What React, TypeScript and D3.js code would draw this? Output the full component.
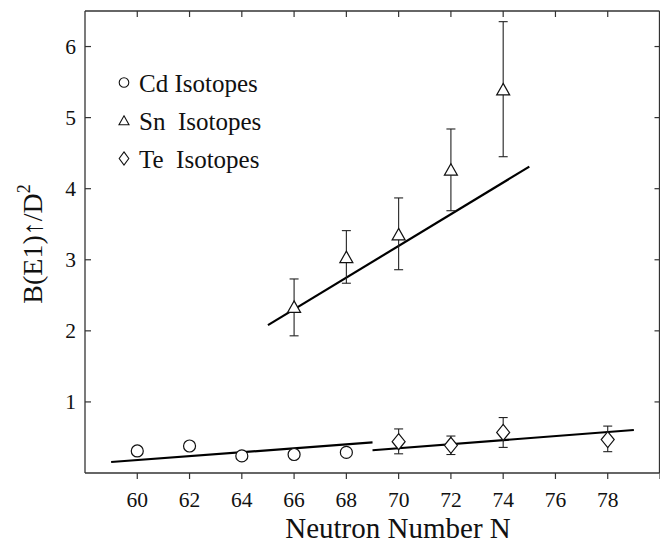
import * as d3 from "d3";

// neutron numbers and B(E1)↑/D² values
const cdN = [60, 62, 64, 66, 68];
const cdVal = [0.31, 0.38, 0.24, 0.26, 0.29];

const snN = [66, 68, 70, 72, 74];
const snVal = [2.33, 3.03, 3.35, 4.26, 5.39];
const snLo = [1.93, 2.67, 2.86, 3.69, 4.45];
const snHi = [2.73, 3.41, 3.87, 4.84, 6.35];

const teN = [70, 72, 74, 78];
const teVal = [0.44, 0.39, 0.57, 0.47];
const teLo = [0.27, 0.26, 0.36, 0.3];
const teHi = [0.62, 0.52, 0.78, 0.66];

// fitted straight lines (end points)
const cdFit = [
  [59, 0.155],
  [69, 0.43],
];
const snFit = [
  [65, 2.08],
  [75, 4.31],
];
const teFit = [
  [69, 0.32],
  [79, 0.605],
];

const xTicks = [60, 62, 64, 66, 68, 70, 72, 74, 76, 78, 80];
const yTicks = [1, 2, 3, 4, 5, 6];

const legendItems = ["Cd Isotopes", "Sn  Isotopes", "Te  Isotopes"];

const W = 660;
const H = 544;
const FONT = "Liberation Serif";

// marker path builders, relative to the point
const circle = (r: number) =>
  `M${-r},0A${r},${r} 0 1,0 ${r},0A${r},${r} 0 1,0 ${-r},0Z`;
const triangle = (hw: number, up: number, down: number) =>
  `M0,${-up}L${hw},${down}L${-hw},${down}Z`;
const diamond = (hw: number, hh: number) =>
  `M0,${-hh}L${hw},0L0,${hh}L${-hw},0Z`;

export default function App() {
  const x = d3.scaleLinear().domain([58, 80]).range([85, 660]);
  const y = d3.scaleLinear().domain([0, 6.5]).range([473, 11]);
  const left = x.range()[0];
  const right = 659.5;
  const top = y.range()[1];
  const bottom = y.range()[0];

  const line = d3
    .line<number[]>()
    .x((d) => x(d[0]))
    .y((d) => y(d[1]));

  const errBar = (n: number, lo: number, hi: number, key: string) => {
    const cx = x(n);
    return (
      <g key={key} stroke="#222" strokeWidth={1.1}>
        <line x1={cx} x2={cx} y1={y(lo)} y2={y(hi)} />
        <line x1={cx - 4.5} x2={cx + 4.5} y1={y(lo)} y2={y(lo)} />
        <line x1={cx - 4.5} x2={cx + 4.5} y1={y(hi)} y2={y(hi)} />
      </g>
    );
  };

  const txt = { fontFamily: FONT, whiteSpace: "pre" as const };

  return (
    <svg
      width={W}
      height={H}
      style={{ position: "fixed", left: 0, top: 0, background: "#fff", fontFamily: FONT }}
    >
      {/* frame */}
      <g fill="none" stroke="#333" strokeWidth={1.3}>
        <line x1={left} x2={right} y1={top} y2={top} />
        <line x1={left} x2={right} y1={bottom} y2={bottom} />
        <line x1={left} x2={left} y1={top} y2={bottom} />
        <line x1={right} x2={right} y1={top} y2={bottom} />
      </g>

      {/* x ticks: outward at bottom, inward at top */}
      <g stroke="#333" strokeWidth={1.2}>
        {xTicks.map((t) => (
          <g key={t}>
            <line x1={x(t)} x2={x(t)} y1={bottom} y2={bottom + 6} />
            <line x1={x(t)} x2={x(t)} y1={top} y2={top + 6} />
          </g>
        ))}
      </g>
      <g fontSize={21.5} textAnchor="middle" fill="#111">
        {xTicks
          .filter((t) => t <= 78)
          .map((t) => (
            <text key={t} x={x(t)} y={506.5} style={txt}>
              {t}
            </text>
          ))}
      </g>

      {/* y ticks: inward both sides */}
      <g stroke="#333" strokeWidth={1.2}>
        {yTicks.map((t) => (
          <g key={t}>
            <line x1={left} x2={left + 6} y1={y(t)} y2={y(t)} />
            <line x1={right - 5} x2={right} y1={y(t)} y2={y(t)} />
          </g>
        ))}
      </g>
      <g fontSize={21.5} textAnchor="end" fill="#111">
        {yTicks.map((t) => (
          <text key={t} x={76} y={y(t)} dy="0.35em" style={txt}>
            {t}
          </text>
        ))}
      </g>

      {/* axis titles */}
      <text x={398} y={538} fontSize={29} textAnchor="middle" fill="#111" style={txt}>
        Neutron Number N
      </text>
      <text
        transform="translate(42,244) rotate(-90)"
        fontSize={28}
        textAnchor="middle"
        fill="#111"
        style={txt}
      >
        B(E1)↑/D
        <tspan fontSize={18} dy={-12}>
          2
        </tspan>
      </text>

      {/* fit lines */}
      <g fill="none" stroke="#000" strokeWidth={2.2}>
        <path d={line(cdFit) ?? ""} />
        <path d={line(snFit) ?? ""} />
        <path d={line(teFit) ?? ""} />
      </g>

      {/* error bars */}
      {snN.map((n, i) => errBar(n, snLo[i], snHi[i], `sn${n}`))}
      {teN.map((n, i) => errBar(n, teLo[i], teHi[i], `te${n}`))}

      {/* markers */}
      <g fill="#fff" stroke="#111" strokeWidth={1.2}>
        {cdN.map((n, i) => (
          <path
            key={`cd${n}`}
            d={circle(6)}
            transform={`translate(${x(n)},${y(cdVal[i])})`}
          />
        ))}
        {snN.map((n, i) => (
          <path
            key={`snm${n}`}
            d={triangle(6.5, 6.5, 5)}
            transform={`translate(${x(n)},${y(snVal[i])})`}
          />
        ))}
        {teN.map((n, i) => (
          <path
            key={`tem${n}`}
            d={diamond(6.5, 8)}
            transform={`translate(${x(n)},${y(teVal[i])})`}
          />
        ))}
      </g>

      {/* legend */}
      <g>
        {legendItems.map((label, i) => {
          const by = 92 + i * 38;
          const my = by - 9.5;
          const shape =
            i === 0 ? circle(4.8) : i === 1 ? triangle(5, 4.7, 4.2) : diamond(4.8, 6.6);
          return (
            <g key={label}>
              <path
                d={shape}
                transform={`translate(124,${my})`}
                fill="#fff"
                stroke="#111"
                strokeWidth={1.1}
              />
              <text x={139} y={by} fontSize={25} fill="#111" style={txt}>
                {label}
              </text>
            </g>
          );
        })}
      </g>
    </svg>
  );
}
